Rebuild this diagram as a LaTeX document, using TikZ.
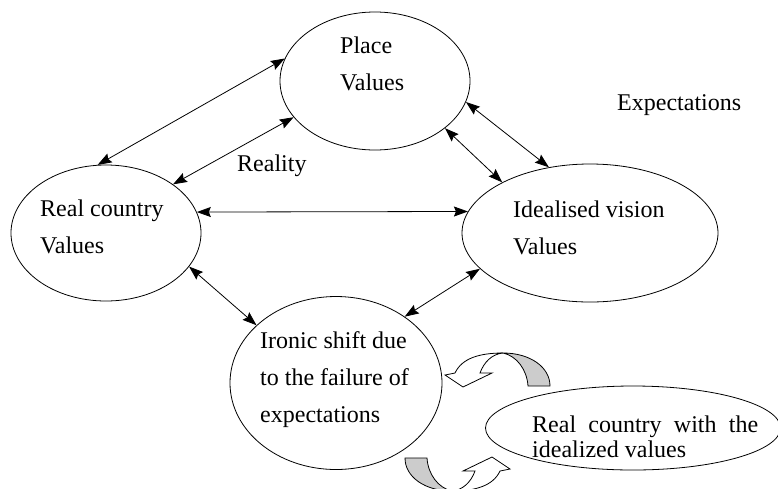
\documentclass[tikz,border=0pt]{standalone}
\usepackage{fontspec}
\setmainfont{Liberation Serif}
\usetikzlibrary{shapes.geometric,arrows.meta}
\definecolor{myshadecolor}{HTML}{CCCCCC}
\tikzset{%
  bubble/.style={draw, ellipse, line width=0.8pt, inner sep=0pt},%
  words/.style={anchor=base west, inner sep=0pt, align=left, font=\fontsize{24pt}{36.7pt}\selectfont},%
  twoway/.style={{Stealth[length=14pt,width=10pt,inset=2pt]}-{Stealth[length=14pt,width=10pt,inset=2pt]}, line width=0.8pt},%
  uturn/.pic={%
    \draw[line width=0.8pt, fill=myshadecolor] (0,0) .. controls (27,0) and (47,14) .. (47,33) -- (25,33) .. controls (24,17) and (14,3) .. (0,0) -- cycle;%
    \draw[line width=0.8pt, fill=white] (0,0) .. controls (-23,0) and (-41,5) .. (-48,20) -- (-58,22) -- (-40,34) -- (-11,20) -- (-23,20) .. controls (-19,9) and (-11,1) .. (0,0) -- cycle;%
  }%
}

\begin{document}
\begin{tikzpicture}[x=1pt, y=-1pt]%
\useasboundingbox (0,0) rectangle (778,488);%
\clip (0,0) rectangle (778,488);%
\node[bubble, minimum width=190pt, minimum height=138pt] (place) at (375,81) {};%
\node[bubble, minimum width=190pt, minimum height=136pt] (real) at (106,233) {};%
\node[bubble, minimum width=256pt, minimum height=138pt] (ideal) at (590,233) {};%
\node[bubble, minimum width=212pt, minimum height=173pt] (ironic) at (336,383) {};%
\node[bubble, minimum width=295pt, minimum height=84pt] (merged) at (633,428) {};%
% multi-line texts sit on their last baseline
\node[words] (placetxt) at (340,90) {Place\\Values};%
\node[words] (realtxt) at (40,253) {Real country\\Values};%
\node[words] (idealtxt) at (513,254) {Idealised vision\\Values};%
\node[words] (ironictxt) at (260,422) {Ironic shift due\\to the failure of\\expectations};%
\node[words] (realitytxt) at (237,171) {Reality};%
\node[words] (expecttxt) at (617,110) {Expectations};%
\node[words, font=\fontsize{24pt}{25pt}\selectfont] (mergedtxt) at (532,457) {\makebox[226pt][s]{Real country with the}\\idealized values};%
\draw[twoway] (real.97) -- (place.166);%
\draw[twoway] (real.36) -- (place.204);%
\draw[twoway] (real.13) -- (ideal.170);%
\draw[twoway] (place.-34) -- (ideal.150);%
\draw[twoway] (place.-13) -- (ideal.122);%
\draw[twoway] (real.-22) -- (ironic.144);%
\draw[twoway] (ironic.44) -- (ideal.198);%
\pic at (503,353) {uturn};%
\pic[rotate=180] at (452,491) {uturn};%
\end{tikzpicture}
\end{document}
